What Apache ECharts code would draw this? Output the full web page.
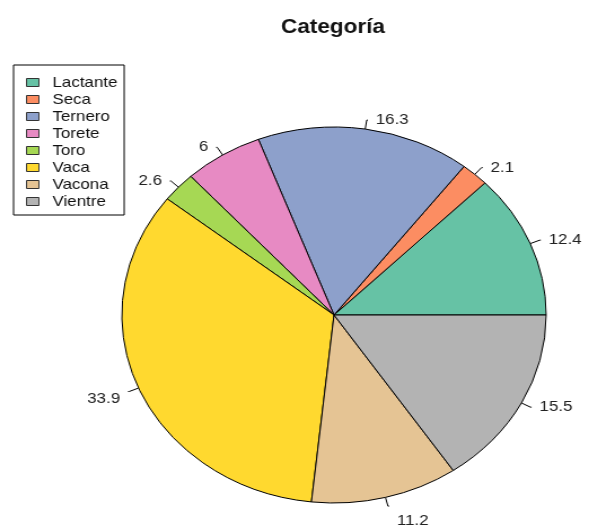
<!DOCTYPE html>
<html>
<head>
<meta charset="utf-8">
<script src="https://cdn.jsdelivr.net/npm/echarts@6/dist/echarts.min.js"></script>
<style>
    html, body { margin: 0; padding: 0; background: #fff; overflow: hidden; }
    /* the reference picture is stretched sideways (the R pie is an ellipse), so stretch the chart too */
    #main { width: 522px; height: 527px; transform: scaleX(1.1284); transform-origin: 0 0; }
</style>
</head>
<body>
<div id="main"></div>
<script>
    var categories = ['Lactante', 'Seca', 'Ternero', 'Torete', 'Toro', 'Vaca', 'Vacona', 'Vientre'];
    var values = [12.4, 2.1, 16.3, 6, 2.6, 33.9, 11.2, 15.5];
    var colors = ['#66C2A5', '#FC8D62', '#8DA0CB', '#E78AC3', '#A6D854', '#FFD92F', '#E5C494', '#B3B3B3'];

    var data = [];
    for (var i = 0; i < categories.length; i++) {
        var item = { name: categories[i], value: values[i] };
        // R puts the labels further out than echarts does, push the lower ones down a bit
        if (categories[i] === 'Vacona') {
            item.label = { formatter: '\n\n{c}' };
        } else if (categories[i] === 'Vaca') {
            item.label = { formatter: '\n{c}' };
        }
        data.push(item);
    }

    var chart = echarts.init(document.getElementById('main'));
    chart.setOption({
        animation: false,
        backgroundColor: '#fff',
        color: colors,
        title: {
            text: 'Categoría',
            left: 244,
            top: 12,
            textStyle: {
                fontFamily: 'Liberation Sans',
                fontSize: 20,
                fontWeight: 'bold',
                color: '#111'
            }
        },
        legend: {
            orient: 'vertical',
            left: 12,
            top: 65,
            padding: [10, 6, 6, 11],
            borderColor: '#000',
            borderWidth: 1,
            backgroundColor: '#fff',
            itemWidth: 11,
            itemHeight: 8,
            itemGap: 2,
            icon: 'rect',
            itemStyle: { borderColor: '#333', borderWidth: 1 },
            textStyle: {
                fontFamily: 'Liberation Sans',
                fontSize: 15,
                lineHeight: 14,
                color: '#111',
                padding: [0, 0, 0, 7]
            },
            data: categories
        },
        series: [{
            type: 'pie',
            center: [296, 315],
            radius: 188,
            startAngle: 0,
            clockwise: false,
            avoidLabelOverlap: false,
            itemStyle: { borderColor: '#000', borderWidth: 1 },
            label: {
                show: true,
                position: 'outside',
                formatter: '{c}',
                fontFamily: 'Liberation Sans',
                fontSize: 15,
                lineHeight: 15,
                color: '#222',
                distanceToLabelLine: 7
            },
            labelLine: {
                show: true,
                length: 9,
                length2: 1,
                lineStyle: { color: '#000', width: 1 }
            },
            emphasis: { disabled: true },
            data: data
        }]
    });
</script>
</body>
</html>
